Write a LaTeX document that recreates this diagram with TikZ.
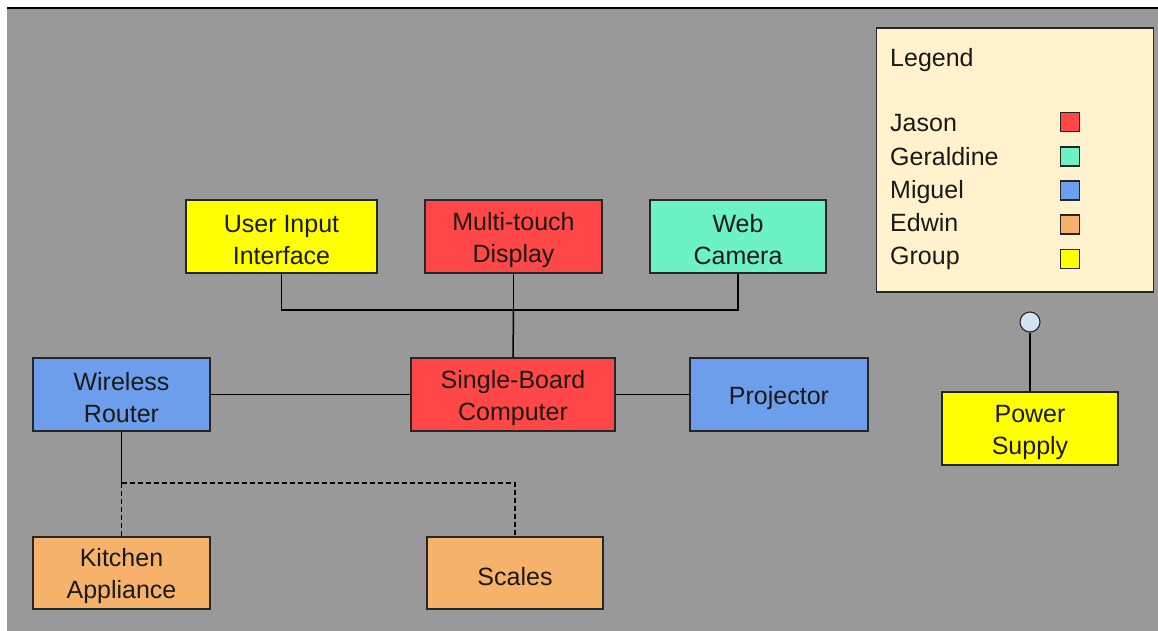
\documentclass[tikz,border=0pt]{standalone}
\usepackage{fontspec}
\setmainfont{Liberation Sans}
\definecolor{bggray}{HTML}{999999}
\definecolor{cyel}{HTML}{FFFF00}
\definecolor{cred}{HTML}{FF4747}
\definecolor{cteal}{HTML}{6CF2C4}
\definecolor{cblue}{HTML}{6D9EEB}
\definecolor{corange}{HTML}{F6B26B}
\definecolor{ccream}{HTML}{FFF2CC}
\definecolor{cedge}{HTML}{262626}
\definecolor{ccircle}{HTML}{D0E2F3}
\definecolor{ctext}{HTML}{1A1A1A}
\tikzset{
  box/.style={draw=cedge, line width=1.1pt, minimum width=177pt, minimum height=73pt, inner sep=0pt},
  boxtext/.style={inner sep=0pt, align=center, text=ctext, font=\fontsize{25}{32}\selectfont},
  wire/.style={draw=black, line width=1.5pt},
  dwire/.style={draw=black, line width=1.1pt, dash pattern=on 5pt off 3pt},
  legtext/.style={anchor=base west, inner sep=0pt, text=ctext, font=\fontsize{25}{32}\selectfont},
  legsq/.style={draw=cedge, line width=1.1pt, minimum width=19pt, minimum height=19pt, inner sep=0pt},
}
\newcommand\diabox[5]{%
  \node[box, fill=#2, #3] (#1) at (#4) {};
  \node[boxtext] (#1-t) at ([yshift=-3.5pt]#1.center) {#5};}
\begin{document}
\begin{tikzpicture}[x=1pt,y=-1pt]
\useasboundingbox (0,0) rectangle (1158,631);
\fill[white] (0,0) rectangle (1158,631);
\fill[bggray] (7,9) rectangle (1158,631);
\draw[black, line width=2pt] (7,8.5) -- (1158,8.5);

% nodes
\diabox{ui}{cyel}{minimum width=191pt}{281.5,236.5}{User Input\\Interface}
\diabox{mt}{cred}{}{513.5,236.5}{Multi-touch\\Display}
\diabox{wc}{cteal}{minimum width=176pt}{738,236.5}{Web\\Camera}
\diabox{wr}{cblue}{}{121.5,394.5}{Wireless\\Router}
\diabox{sbc}{cred}{minimum width=204pt}{513,394.5}{Single-Board\\Computer}
\diabox{pj}{cblue}{minimum width=178pt}{779,394.5}{Projector}
\diabox{ka}{corange}{minimum height=72pt}{121.5,573}{Kitchen\\Appliance}
\diabox{sc}{corange}{minimum height=72pt, minimum width=176pt}{515,573}{Scales}
\diabox{ps}{cyel}{minimum width=176pt}{1030,428.5}{Power\\Supply}
\node[circle, draw=cedge, line width=1.1pt, fill=ccircle, minimum size=20pt, inner sep=0pt] (plug) at (1030,322) {};

% connectors
\coordinate (bus) at (513.5,310);
\coordinate (wrj) at (121.5,483);
\draw[wire] (ui.south) |- (bus) -| (wc.south);
\draw[wire] (mt.south) -- (bus);
\draw[wire] (bus) -- (sbc.north);
\draw[wire] (wr.east) -- (sbc.west);
\draw[wire] (sbc.east) -- (pj.west);
\draw[wire] (wr.south) -- (wrj);
\draw[dwire] (wrj) -- (ka.north);
\draw[dwire] (wrj) -| (sc.north);
\draw[wire] (plug.south) -- (ps.north);

% legend
\node[draw=cedge, line width=1.3pt, fill=ccream, minimum width=277pt, minimum height=264pt, inner sep=0pt] (legend) at (1015,160) {};
\node[legtext] (lgt) at (890,67) {Legend};
\node[legtext] (lj) at (890,132) {Jason};
\node[legtext] (lg) at (890,165.5) {Geraldine};
\node[legtext] (lm) at (890,198.5) {Miguel};
\node[legtext] (le) at (890,231.5) {Edwin};
\node[legtext] (lgr) at (890,264.5) {Group};
\node[legsq, fill=cred] (sj) at (1070,122) {};
\node[legsq, fill=cteal] (sg) at (1070,156.5) {};
\node[legsq, fill=cblue] (sm) at (1070,190.5) {};
\node[legsq, fill=corange] (se) at (1070,224.5) {};
\node[legsq, fill=cyel] (sgr) at (1070,259) {};
\end{tikzpicture}
\end{document}
